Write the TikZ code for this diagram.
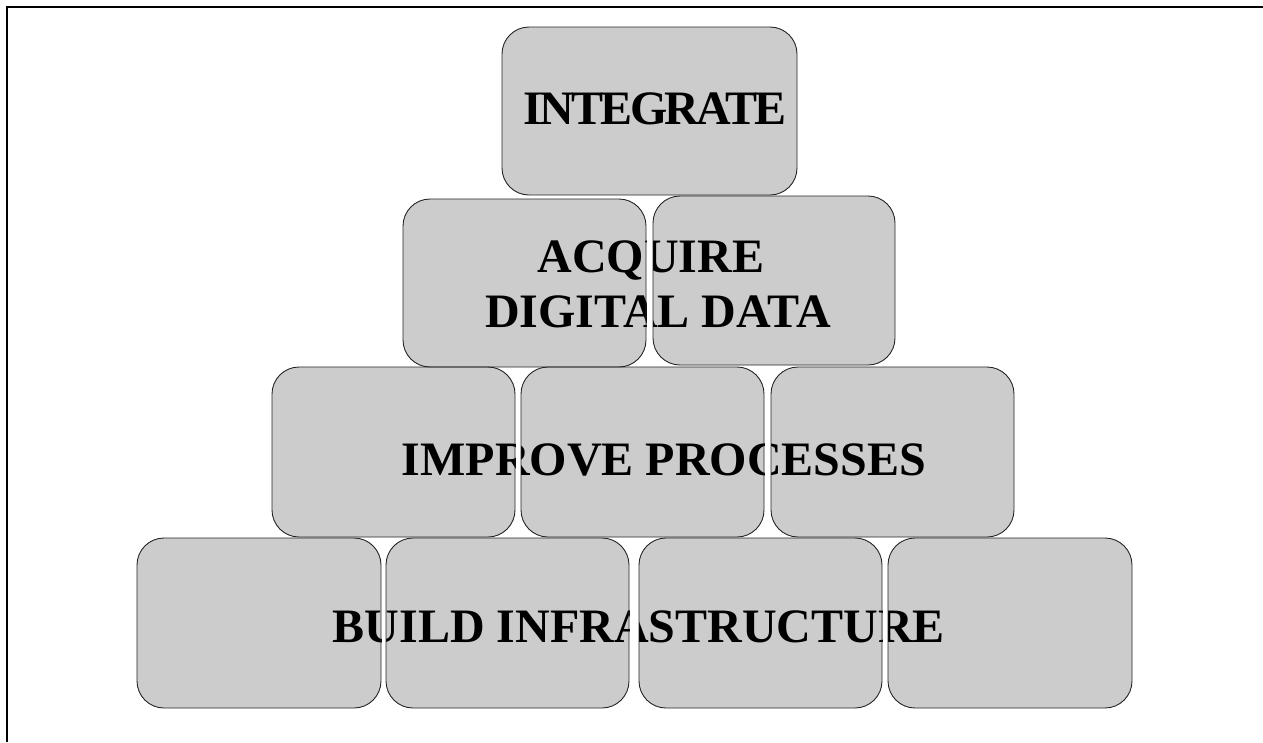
\documentclass[tikz,border=0pt]{standalone}
\usepackage{fontspec}
\setmainfont{Liberation Serif}
\newfontfamily\tightfont{Liberation Serif}[LetterSpace=-5.5]
\definecolor{boxgray}{HTML}{CCCCCC}
\begin{document}
\begin{tikzpicture}[x=1pt,y=-1pt,
  boxfill/.style={fill=boxgray,rounded corners=27pt},
  boxline/.style={draw=black!85,line width=0.9pt,rounded corners=27pt},
  label/.style={inner sep=0pt,anchor=base,text=black,font=\fontsize{48}{55}\selectfont\bfseries},
  frameline/.style={line width=2pt,draw=black}]
\useasboundingbox (0,0) rectangle (1263,742);
\def\boxlist{502/27/797/195, 403/199/646/367, 653/196/895/365,
  272/367/515/537, 521/367/764/537, 771/367/1014/537,
  137/538/381/708, 386/538/629/708, 639/538/882/708, 888/538/1132/708}
% frame (top and left only)
\coordinate (fbl) at (7,742);
\coordinate (ftl) at (7,7);
\coordinate (ftr) at (1263,7);
\draw[frameline] (fbl) -- (ftl) -- (ftr);
% box fills
\foreach \a/\b/\c/\d in \boxlist {\path[boxfill] (\a,\b) rectangle (\c,\d);}
% text clipped to the boxes
\begin{scope}
\clip[rounded corners=27pt] foreach \a/\b/\c/\d in \boxlist {(\a,\b) rectangle (\c,\d)};
\node[label,font=\fontsize{48}{55}\selectfont\tightfont\bfseries] (integrate) at (655,124) {INTEGRATE};
\node[label] (acquire) at (651,272) {ACQUIRE};
\node[label] (digital) at (658,327) {DIGITAL DATA};
\node[label] (improve) at (664,475) {IMPROVE PROCESSES};
\node[label] (build) at (639,642) {BUILD INFRASTRUCTURE};
\end{scope}
% box outlines
\foreach \a/\b/\c/\d in \boxlist {\path[boxline] (\a,\b) rectangle (\c,\d);}
\end{tikzpicture}
\end{document}
